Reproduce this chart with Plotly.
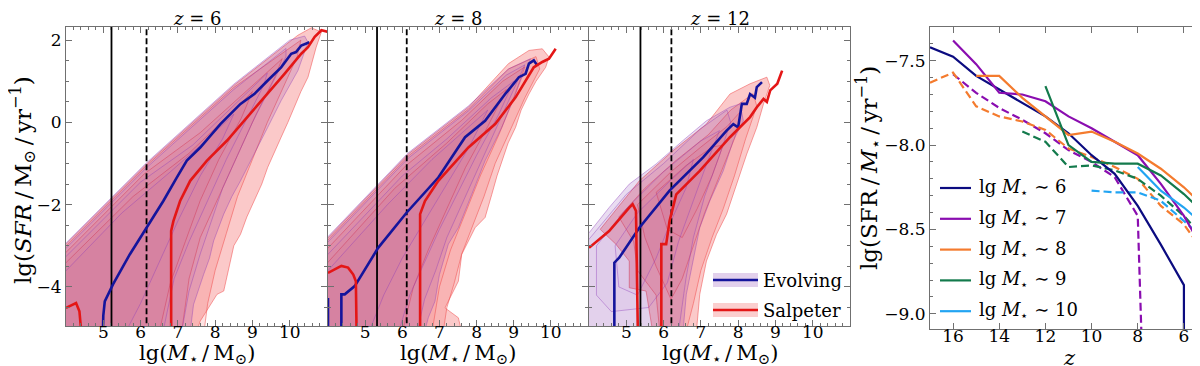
import plotly.graph_objects as go

FONT = "DejaVu Serif, Liberation Serif, serif"
W, H = 1200, 366

# ---------------- left panels: SFR vs stellar mass ----------------
REDSHIFTS = [6, 8, 12]
LIM_SOLID = [5.22, 5.32, 5.38]
LIM_DASHED = [6.16, 6.12, 6.21]

# median relations (Evolving IMF = blue, Salpeter = red)
Z6_EVOL_MED_X = [4.99, 5.0, 5.04, 5.26, 5.71, 6.16, 6.61, 6.97, 7.24, 7.6, 8.14, 8.68, 9.05, 9.41, 9.77, 10.04, 10.17, 10.31, 10.53]
Z6_EVOL_MED_Y = [-5.1, -4.7, -4.35, -3.94, -3.21, -2.56, -1.91, -1.34, -0.93, -0.61, -0.04, 0.45, 0.69, 1.02, 1.34, 1.67, 1.71, 1.87, 1.95]
Z6_SALP_MED_X = [4.0, 4.27, 4.36, 4.41, None, 6.82, 6.82, 6.88, 7.06, 7.33, 7.78, 8.32, 8.86, 9.41, 9.86, 10.31, 10.49, 10.67, 10.85, 11.03]
Z6_SALP_MED_Y = [-4.51, -4.39, -4.59, -5.1, None, -5.1, -2.64, -2.4, -1.91, -1.42, -0.93, -0.44, 0.12, 0.69, 1.18, 1.67, 1.83, 2.08, 2.24, 2.2]

Z8_EVOL_MED_X = [4.0, 4.0, None, 4.36, 4.36, 4.45, 4.72, 5.35, 6.12, 6.97, 7.69, 8.23, 8.77, 9.14, 9.32, 9.41, 9.54, 9.63]
Z8_EVOL_MED_Y = [-5.1, -4.27, None, -5.1, -4.18, -4.18, -3.98, -3.05, -2.19, -1.34, -0.36, 0.04, 0.69, 1.1, 1.18, 1.43, 1.51, 1.39]
Z8_SALP_MED_X = [4.0, 4.36, 4.54, 4.68, 4.75, 4.77, None, 6.48, 6.48, 6.61, 6.97, 7.78, 8.5, 9.05, 9.41, 9.54, 9.77, 9.95, 10.13]
Z8_SALP_MED_Y = [-3.66, -3.49, -3.53, -3.7, -3.86, -5.1, None, -5.1, -2.23, -1.91, -1.42, -0.61, -0.04, 0.61, 1.14, 1.34, 1.47, 1.55, 1.79]

Z12_EVOL_MED_X = [4.68, 4.68, 4.81, 5.35, 6.16, 7.06, 7.69, 7.87, 8.0, 8.1, 8.23, 8.32, 8.45, 8.5, 8.64]
Z12_EVOL_MED_Y = [-5.1, -3.41, -3.29, -2.56, -1.66, -0.85, -0.2, -0.04, -0.12, 0.45, 0.45, 0.69, 0.6, 0.86, 0.98]
Z12_SALP_MED_X = [4.0, 4.54, 5.08, 5.17, 5.26, 5.31, None, 5.94, 5.94, 6.07, 6.16, 6.34, 6.97, 7.78, 8.32, 8.5, 8.68, 8.77, 8.86, 9.05, 9.18]
Z12_SALP_MED_Y = [-3.05, -2.64, -2.07, -1.99, -2.15, -5.1, None, -5.1, -2.96, -2.96, -2.4, -1.75, -1.18, -0.36, 0.13, 0.37, 0.57, 0.5, 0.78, 0.94, 1.26]

# density contours, outermost level first, (lg M*, lg SFR) vertices
Z6_SALP = [
    [(3.9, -3.05), (6.16, -1.01), (8.5, 0.9), (10.22, 2.12), (10.58, 2.3), (10.85, 2.2), (10.71, 1.83), (10.6, 1.45),
     (10.49, 1.1), (10.3, 0.75), (10.13, 0.37), (9.95, 0.0), (9.77, -0.36), (9.6, -0.7), (9.41, -1.09), (9.25, -1.5),
     (9.05, -1.91), (8.85, -2.3), (8.68, -2.72), (8.5, -3.0), (8.41, -3.37), (8.3, -3.8), (8.23, -4.1), (8.05, -4.18),
     (7.9, -4.4), (7.78, -4.59), (7.6, -4.83), (7.5, -5.1), (3.9, -5.1)],
    [(3.9, -3.1), (6.16, -1.05), (8.5, 0.85), (10.3, 2.0), (10.2, 1.6), (9.8, 0.8), (9.4, 0.0), (9.0, -0.9), (8.6, -1.8),
     (8.3, -2.7), (8.0, -3.6), (7.8, -4.4), (7.7, -5.1), (3.9, -5.1)],
    [(3.9, -3.25), (6.1, -1.25), (7.6, -0.25), (8.9, 0.8), (9.8, 1.55), (9.6, 1.1), (9.1, 0.2), (8.6, -0.8), (8.1, -1.8),
     (7.6, -2.8), (7.3, -3.8), (7.1, -5.1), (3.9, -5.1)],
    [(3.9, -3.5), (5.8, -1.8), (7.3, -0.75), (8.4, 0.2), (9.0, 0.75), (8.7, 0.1), (8.1, -0.9), (7.6, -1.9), (7.2, -2.9),
     (6.8, -3.9), (6.5, -5.1), (3.9, -5.1)],
]
Z6_EVOL = [
    [(3.9, -3.02), (6.16, -0.98), (8.5, 0.93), (10.0, 2.0), (10.4, 2.1), (10.49, 1.95), (10.22, 1.26), (10.0, 0.9),
     (9.77, 0.53), (9.41, -0.12), (9.05, -0.77), (8.68, -1.42), (8.45, -1.8), (8.23, -2.23), (7.96, -2.88),
     (7.85, -3.3), (7.69, -3.7), (7.42, -4.43), (7.33, -5.1), (3.9, -5.1)],
    [(3.9, -3.15), (6.16, -1.1), (8.5, 0.8), (9.9, 1.8), (9.9, 1.6), (9.4, 0.7), (9.0, 0.0), (8.6, -0.8), (8.2, -1.6),
     (7.9, -2.4), (7.6, -3.2), (7.3, -4.1), (7.1, -5.1), (3.9, -5.1)],
    [(3.9, -3.35), (6.0, -1.45), (7.4, -0.55), (8.6, 0.5), (9.4, 1.2), (9.3, 0.9), (8.8, 0.0), (8.3, -0.9), (7.8, -1.9),
     (7.3, -2.9), (6.9, -3.8), (6.6, -5.1), (3.9, -5.1)],
    [(3.9, -3.7), (5.5, -2.2), (6.8, -1.2), (7.8, -0.4), (8.5, 0.2), (8.2, -0.4), (7.6, -1.3), (7.0, -2.4), (6.5, -3.4),
     (6.0, -4.4), (5.6, -5.1), (3.9, -5.1)],
]

Z8_SALP = [
    [(3.9, -2.9), (6.16, -0.77), (7.78, 0.37), (8.86, 1.43), (9.41, 1.75), (9.77, 1.79), (9.95, 1.59), (9.86, 1.34),
     (9.6, 1.0), (9.41, 0.69), (9.2, 0.3), (9.05, -0.12), (8.85, -0.5), (8.68, -0.93), (8.55, -1.3), (8.41, -1.75),
     (8.23, -2.31), (7.96, -2.56), (7.78, -2.88), (7.6, -3.21), (7.51, -3.86), (7.33, -4.18), (7.15, -4.51),
     (7.51, -4.75), (7.6, -5.1), (3.9, -5.1)],
    [(3.9, -2.95), (6.16, -0.82), (7.78, 0.32), (8.86, 1.3), (9.6, 1.6), (9.7, 1.3), (9.3, 0.6), (8.9, -0.2), (8.5, -1.0),
     (8.2, -1.8), (7.9, -2.5), (7.6, -3.2), (7.4, -3.9), (7.2, -4.5), (7.1, -5.1), (3.9, -5.1)],
    [(3.9, -3.15), (6.1, -1.05), (7.6, 0.05), (8.7, 1.0), (9.3, 1.35), (9.0, 0.6), (8.6, -0.3), (8.1, -1.3), (7.7, -2.2),
     (7.3, -3.1), (7.0, -4.0), (6.8, -5.1), (3.9, -5.1)],
    [(3.9, -3.5), (5.8, -1.6), (7.2, -0.5), (8.3, 0.45), (8.8, 0.8), (8.3, -0.1), (7.7, -1.1), (7.2, -2.1), (6.7, -3.1),
     (6.3, -4.0), (6.0, -5.1), (3.9, -5.1)],
]
Z8_EVOL = [
    [(3.9, -2.87), (6.16, -0.74), (7.78, 0.4), (8.86, 1.3), (9.45, 1.55), (9.41, 1.43), (9.2, 1.05), (9.05, 0.69),
     (8.68, -0.12), (8.23, -0.93), (7.87, -1.75), (7.51, -2.56), (7.24, -2.96), (7.0, -3.7), (6.88, -4.35),
     (6.7, -4.75), (6.6, -5.1), (3.9, -5.1)],
    [(3.9, -3.0), (6.16, -0.87), (7.78, 0.28), (8.8, 1.15), (9.3, 1.4), (9.2, 1.2), (8.8, 0.4), (8.4, -0.4), (8.0, -1.2),
     (7.6, -2.0), (7.2, -2.8), (6.9, -3.6), (6.6, -4.3), (6.4, -5.1), (3.9, -5.1)],
    [(3.9, -3.3), (6.0, -1.3), (7.2, -0.4), (8.4, 0.6), (9.0, 1.0), (8.6, 0.2), (8.0, -0.8), (7.5, -1.7), (7.0, -2.6),
     (6.6, -3.4), (6.2, -4.2), (5.9, -5.1), (3.9, -5.1)],
    [(3.9, -3.7), (5.6, -2.0), (6.8, -0.9), (7.8, -0.1), (8.3, 0.3), (7.8, -0.6), (7.2, -1.5), (6.6, -2.4), (6.0, -3.3),
     (5.5, -4.2), (5.1, -5.1), (3.9, -5.1)],
]

Z12_SALP = [
    [(4.3, -2.6), (5.35, -1.42), (6.25, -0.69), (7.15, -0.04), (7.78, 0.69), (8.32, 0.94), (8.77, 1.1), (8.85, 0.9),
     (8.68, 0.45), (8.5, -0.12), (8.23, -0.77), (7.96, -1.5), (7.69, -2.23), (7.42, -2.72), (7.15, -3.37),
     (6.97, -4.18), (6.88, -5.1), (5.71, -5.1), (5.53, -4.1), (5.08, -4.02), (5.08, -3.37), (4.72, -2.96)],
    [(4.8, -2.3), (5.5, -1.6), (6.3, -0.95), (7.2, -0.3), (7.8, 0.3), (8.4, 0.7), (8.5, 0.4), (8.2, -0.4), (7.9, -1.3),
     (7.6, -2.1), (7.3, -2.8), (7.0, -3.6), (6.8, -4.4), (6.6, -5.1), (5.9, -5.1), (5.8, -4.2), (5.3, -3.6), (5.2, -2.9)],
    [(5.3, -2.0), (6.2, -1.2), (7.0, -0.6), (7.7, -0.1), (8.1, 0.3), (7.9, -0.4), (7.5, -1.3), (7.1, -2.2), (6.8, -3.0),
     (6.5, -3.8), (6.2, -4.3), (5.8, -3.5), (5.5, -2.8)],
    [(5.8, -1.7), (6.6, -1.05), (7.3, -0.6), (7.6, -0.55), (7.3, -1.3), (6.9, -2.1), (6.5, -2.8), (6.1, -2.6)],
]
Z12_EVOL = [
    [(3.9, -2.8), (4.54, -2.07), (5.08, -1.5), (5.8, -1.01), (6.52, -0.44), (7.15, 0.04), (7.78, 0.37), (8.05, 0.45),
     (8.14, 0.04), (7.87, -0.44), (7.6, -1.18), (7.24, -1.91), (6.97, -2.56), (6.79, -3.37), (6.61, -4.18),
     (6.52, -5.1), (3.9, -5.1)],
    [(3.9, -2.95), (5.0, -1.75), (6.0, -1.0), (7.0, -0.15), (7.7, 0.3), (7.8, 0.0), (7.5, -0.8), (7.1, -1.8), (6.8, -2.8),
     (6.6, -3.8), (6.4, -5.1), (3.9, -5.1)],
    [(4.2, -3.0), (5.0, -2.1), (6.0, -1.2), (7.0, -0.45), (7.5, -0.2), (7.2, -0.9), (6.8, -1.9), (6.4, -2.9),
     (6.1, -3.9), (5.6, -4.5), (4.6, -4.6), (4.2, -4.2)],
    [(4.7, -3.0), (5.3, -2.2), (6.2, -1.4), (6.8, -0.9), (6.6, -1.6), (6.2, -2.4), (5.8, -3.3), (5.3, -4.2), (4.8, -4.0)],
]

# ---------------- right panel: sSFR vs redshift ----------------
M6_Z = [17, 16, 15, 14, 13, 12, 11, 10, 9, 8, 7, 6, 6]
M6_SSFR = [-7.42, -7.476, -7.59, -7.67, -7.75, -7.83, -7.93, -8.06, -8.17, -8.36, -8.59, -8.83, -9.3]
M7_Z = [16, 15, 14, 13, 12, 11, 10, 9, 8, 7, 6, 5]
M7_SSFR = [-7.38, -7.52, -7.69, -7.70, -7.74, -7.83, -7.90, -7.98, -8.06, -8.23, -8.42, -8.66]
M8_Z = [15, 14, 13, 12, 11, 10, 9, 8, 7, 6, 5]
M8_SSFR = [-7.59, -7.59, -7.72, -7.83, -7.94, -7.92, -7.98, -8.05, -8.14, -8.25, -8.38]
M9_Z = [12, 11, 10, 9, 8, 7, 6, 5]
M9_SSFR = [-7.65, -8.0, -8.10, -8.11, -8.11, -8.18, -8.29, -8.42]
M10_Z = [8, 7, 6, 5]
M10_SSFR = [-8.13, -8.27, -8.37, -8.49]

M7_Z_SALP = [16, 15, 14, 13, 12, 11, 10, 9, 8, 7.8]
M7_SSFR_SALP = [-7.58, -7.69, -7.78, -7.85, -7.93, -8.03, -8.10, -8.19, -8.42, -9.3]
M8_Z_SALP = [17, 16, 15, 14, 13, 12, 11, 10, 9, 8, 7, 6, 5]
M8_SSFR_SALP = [-7.63, -7.57, -7.77, -7.83, -7.86, -7.91, -8.02, -8.07, -8.13, -8.20, -8.36, -8.47, -8.66]
M9_Z_SALP = [13, 12, 11, 10, 9, 8, 7, 6, 5]
M9_SSFR_SALP = [-7.92, -7.98, -8.13, -8.12, -8.15, -8.20, -8.30, -8.42, -8.57]
M10_Z_SALP = [10, 9, 8, 7, 6, 5]
M10_SSFR_SALP = [-8.27, -8.28, -8.28, -8.33, -8.45, -8.57]

MASS_LABELS = ["6", "7", "8", "9", "10"]
MASS_COLORS = ["#0b0b80", "#8a0db0", "#f47b2e", "#137a4c", "#22a4f2"]

SALP_RGB = "240,60,60"
EVOL_RGB = "110,20,160"
SALP_ALPHA = [0.28, 0.14, 0.07, 0.05]
EVOL_ALPHA = [0.15, 0.05, 0.02, 0.02]
BLUE = "#14149c"
RED = "#e41616"
AXCOL = "#707070"


def px(x):
    return x / W


def py(y):
    return 1 - y / H


fig = go.Figure()


def add_contours(polys, rgb, alphas, line_rgba, xa, ya):
    for poly, a in zip(polys, alphas):
        xs = [p[0] for p in poly] + [poly[0][0]]
        ys = [p[1] for p in poly] + [poly[0][1]]
        fig.add_trace(go.Scatter(x=xs, y=ys, mode="lines", fill="toself",
                                 fillcolor=f"rgba({rgb},{a})",
                                 line=dict(color=line_rgba, width=0.9),
                                 xaxis=xa, yaxis=ya, hoverinfo="skip", showlegend=False))


panels = [
    (Z6_SALP, Z6_EVOL, Z6_EVOL_MED_X, Z6_EVOL_MED_Y, Z6_SALP_MED_X, Z6_SALP_MED_Y),
    (Z8_SALP, Z8_EVOL, Z8_EVOL_MED_X, Z8_EVOL_MED_Y, Z8_SALP_MED_X, Z8_SALP_MED_Y),
    (Z12_SALP, Z12_EVOL, Z12_EVOL_MED_X, Z12_EVOL_MED_Y, Z12_SALP_MED_X, Z12_SALP_MED_Y),
]

for i, (salp, evol, ex, ey, sx, sy) in enumerate(panels):
    xa = "x" if i == 0 else f"x{i + 1}"
    ya = "y" if i == 0 else f"y{i + 1}"
    add_contours(salp, SALP_RGB, SALP_ALPHA, "rgba(240,80,80,0.6)", xa, ya)
    add_contours(evol, EVOL_RGB, EVOL_ALPHA, "rgba(140,60,185,0.45)", xa, ya)
    fig.add_trace(go.Scatter(x=[LIM_SOLID[i]] * 2, y=[-5.1, 2.5], mode="lines",
                             line=dict(color="black", width=1.8), xaxis=xa, yaxis=ya, showlegend=False))
    fig.add_trace(go.Scatter(x=[LIM_DASHED[i]] * 2, y=[-5.1, 2.5], mode="lines",
                             line=dict(color="black", width=1.8, dash="6px,3px"), xaxis=xa, yaxis=ya, showlegend=False))
    fig.add_trace(go.Scatter(x=ex, y=ey, mode="lines", line=dict(color=BLUE, width=2.6),
                             xaxis=xa, yaxis=ya, showlegend=False))
    fig.add_trace(go.Scatter(x=sx, y=sy, mode="lines", line=dict(color=RED, width=2.6),
                             xaxis=xa, yaxis=ya, showlegend=False))

solid = [(M6_Z, M6_SSFR), (M7_Z, M7_SSFR), (M8_Z, M8_SSFR), (M9_Z, M9_SSFR), (M10_Z, M10_SSFR)]
dashed = [(None, None), (M7_Z_SALP, M7_SSFR_SALP), (M8_Z_SALP, M8_SSFR_SALP),
          (M9_Z_SALP, M9_SSFR_SALP), (M10_Z_SALP, M10_SSFR_SALP)]
for (zd, sd), col in zip(dashed, MASS_COLORS):
    if zd is not None:
        fig.add_trace(go.Scatter(x=zd, y=sd, mode="lines", line=dict(color=col, width=2.2, dash="8px,4px"),
                                 xaxis="x4", yaxis="y4", showlegend=False))
for (zs, ss), col in zip(solid, MASS_COLORS):
    fig.add_trace(go.Scatter(x=zs, y=ss, mode="lines", line=dict(color=col, width=2.2),
                             xaxis="x4", yaxis="y4", showlegend=False))

# ---------------- axes ----------------
tickfont = dict(family=FONT, size=17, color="black")


def axis(domain, anchor, rng, tickvals, minor_dtick, labels=True, fmt=None, standoff=0):
    d = dict(domain=domain, anchor=anchor, range=rng, tickmode="array", tickvals=tickvals,
             showline=True, linecolor=AXCOL, linewidth=1.2, mirror="allticks",
             ticks="inside", ticklen=6, tickwidth=1, tickcolor=AXCOL, tickfont=tickfont,
             showticklabels=labels, showgrid=False, zeroline=False, ticklabelstandoff=standoff)
    if fmt:
        d["tickformat"] = fmt
    if minor_dtick:
        d["minor"] = dict(ticks="inside", ticklen=3, tickcolor=AXCOL, tickmode="linear",
                          dtick=minor_dtick, showgrid=False)
    return d


YL = [py(318), py(19)]
YR = [py(321), py(19)]
XD = [[px(58), px(319)], [px(320), px(580)], [px(581), px(842)]]
MASS_TICKS = [5, 6, 7, 8, 9, 10]
SFR_TICKS = [-4, -2, 0, 2]

layout = dict(width=W, height=H, margin=dict(l=0, r=0, t=0, b=0), autosize=False,
              paper_bgcolor="white", plot_bgcolor="white", showlegend=False,
              font=dict(family=FONT, size=18, color="black"))
for i in range(3):
    sfx = "" if i == 0 else str(i + 1)
    layout["xaxis" + sfx] = axis(XD[i], "y" + sfx, [4.0, 11.0], MASS_TICKS, 0.2, standoff=-10)
    layout["xaxis" + sfx]["minor"]["tick0"] = 4.0
    layout["yaxis" + sfx] = axis(YL, "x" + sfx, [-4.95, 2.32], SFR_TICKS, 0.5, labels=(i == 0))
    layout["yaxis" + sfx]["minor"]["tick0"] = -5.0
layout["xaxis4"] = axis([px(922), px(1199)], "y4", [17, 5], [16, 14, 12, 10, 8, 6], None, standoff=-9)
layout["yaxis4"] = axis(YR, "x4", [-9.09, -7.3], [-9.0, -8.5, -8.0, -7.5], 0.1, fmt=".1f")
layout["yaxis4"]["minor"]["tick0"] = -9.0
fig.update_layout(**layout)

# ---------------- text ----------------
ann = []


def label(x, y, text, anchor="center", angle=0, size=18):
    ann.append(dict(x=px(x), y=py(y), xref="paper", yref="paper", text=text, showarrow=False,
                    xanchor=anchor, yanchor="middle", textangle=angle,
                    font=dict(family=FONT, size=size, color="black")))


centers = [188.5, 450, 711.5]
for c, zred in zip(centers, REDSHIFTS):
    label(c, 10, f"<i>z</i> = {zred}")
    label(c, 346, "lg(<i>M</i><sub>⋆</sub>\u2009/\u2009M<sub>⊙</sub>)", size=21)
label(14, 172, "lg(<i>SFR</i>\u2009/\u2009M<sub>⊙</sub>\u2009/\u2009yr<sup>−1</sup>)", angle=-90, size=23)
label(860, 160, "lg(SFR\u2009/\u2009<i>M</i><sub>⋆</sub>\u2009/\u2009yr<sup>−1</sup>)", angle=-90, size=23)
label(1061, 350, "<i>z</i>", size=21)

shapes = []
# IMF legend in the z=12 panel
for ycen, rgb, a, col, lab in [(272, EVOL_RGB, 0.2, BLUE, "Evolving"), (302, SALP_RGB, 0.25, RED, "Salpeter")]:
    shapes.append(dict(type="rect", xref="paper", yref="paper", x0=px(705), x1=px(750),
                       y0=py(ycen + 7), y1=py(ycen - 7), fillcolor=f"rgba({rgb},{a})", line=dict(width=0)))
    shapes.append(dict(type="line", xref="paper", yref="paper", x0=px(705), x1=px(750),
                       y0=py(ycen), y1=py(ycen), line=dict(color=col, width=2.6)))
    label(753, ycen, lab, anchor="left")

# mass legend in the right panel
for k, (lab, col) in enumerate(zip(MASS_LABELS, MASS_COLORS)):
    ycen = 180 + 30.8 * k
    shapes.append(dict(type="line", xref="paper", yref="paper", x0=px(932), x1=px(963),
                       y0=py(ycen), y1=py(ycen), line=dict(color=col, width=2.2)))
    label(969, ycen, f"lg <i>M</i><sub>⋆</sub> ∼ {lab}", anchor="left")

fig.update_layout(annotations=ann, shapes=shapes)
fig.write_html("out.html")
